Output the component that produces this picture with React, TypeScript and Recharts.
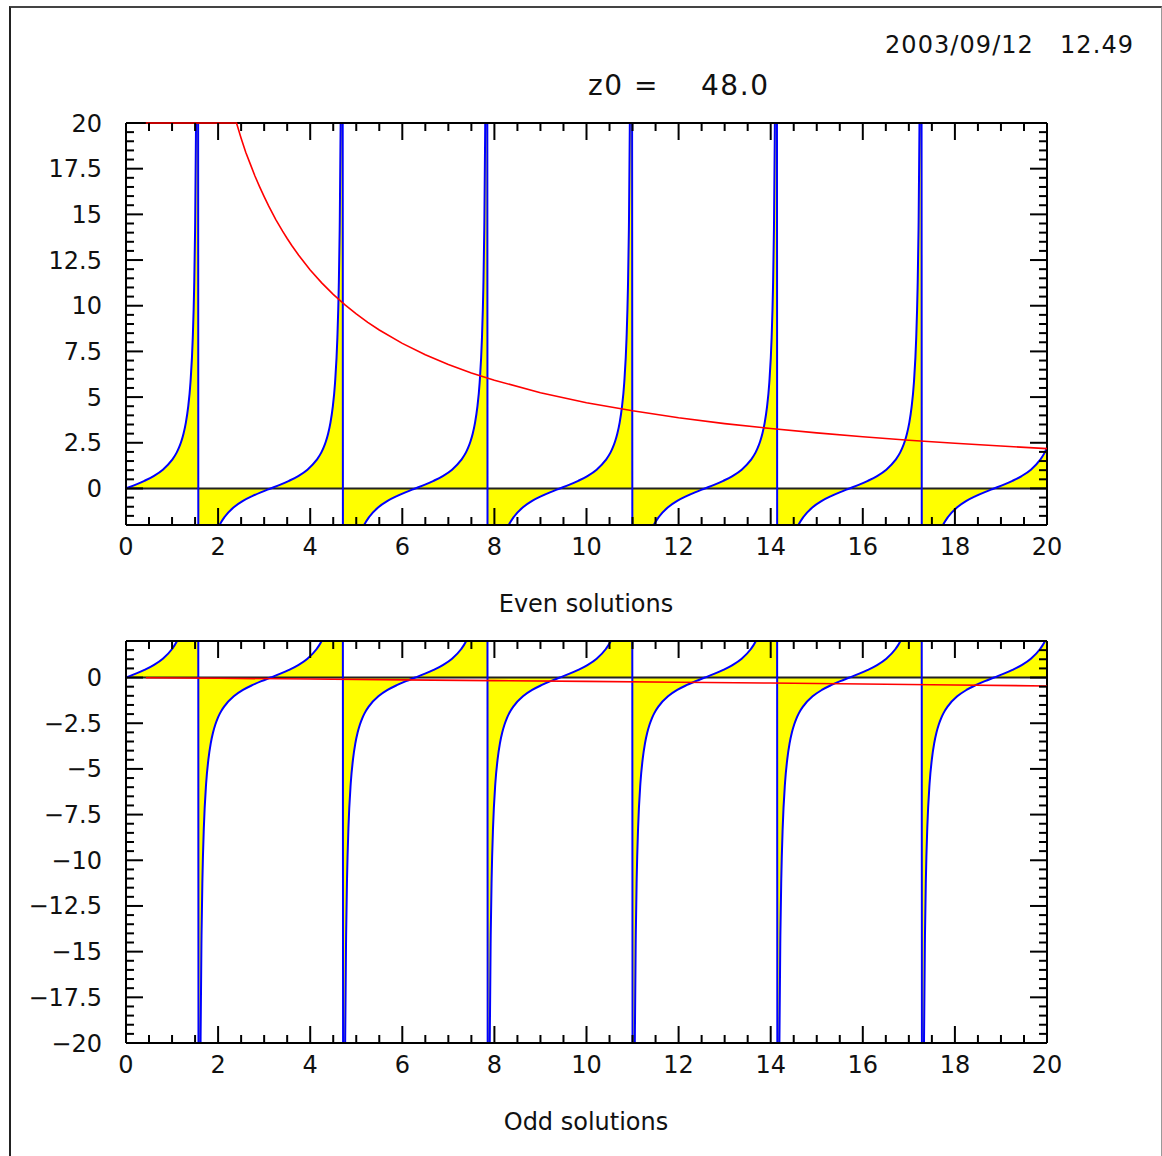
import React from 'react';
import { ComposedChart, Area, Line, XAxis, YAxis, ReferenceLine } from 'recharts';

// blue curve: every branch crosses zero at one of these z, and has the same shape around it
const zeroCrossings = [0, 3.14, 6.28, 9.42, 12.57, 15.71, 18.85];
const branchDz = [
    -1.555, -1.535, -1.52, -1.5, -1.48, -1.45, -1.4, -1.35, -1.3, -1.25, -1.2, -1.15, -1.1, -1.0, -0.8, -0.6, -0.4, -0.2,
    0, 0.2, 0.4, 0.6, 0.8, 1.0, 1.1, 1.15, 1.2, 1.25, 1.3, 1.35, 1.4, 1.45, 1.48, 1.5, 1.52, 1.535, 1.555
];
const branchTan = [
    -63.7, -27.9, -19.7, -14.1, -11.0, -8.24, -5.8, -4.46, -3.6, -3.01, -2.57, -2.23, -1.96, -1.56, -1.03, -0.68, -0.42, -0.2,
    0, 0.2, 0.42, 0.68, 1.03, 1.56, 1.96, 2.23, 2.57, 3.01, 3.6, 4.46, 5.8, 8.24, 11.0, 14.1, 19.7, 27.9, 63.7
];

// red curves
const redEvenX = [
    0.43, 1.0, 1.5, 2.0, 2.4, 2.5, 2.6, 2.7, 2.8, 2.9, 3.0, 3.1, 3.25, 3.4, 3.5, 3.6, 3.75, 4, 4.25, 4.5, 4.75, 5, 5.25,
    5.5, 6, 6.5, 7, 7.5, 8, 9, 10, 11, 12, 13, 14, 15, 16, 17, 18, 19, 20
];
const redEvenY = [
    20, 20, 20, 20, 20, 19.17, 18.4, 17.75, 17.1, 16.52, 15.97, 15.45, 14.73, 14.08, 13.68, 13.3, 12.76, 11.96, 11.25, 10.62,
    10.06, 9.55, 9.09, 8.67, 7.94, 7.32, 6.78, 6.32, 5.92, 5.24, 4.69, 4.25, 3.87, 3.55, 3.28, 3.04, 2.83, 2.64, 2.47, 2.32, 2.18
];
const redOddX = [0.43, 2, 4, 6, 8, 10, 12, 14, 16, 18, 20];
const redOddY = [-0.01, -0.04, -0.08, -0.13, -0.17, -0.21, -0.26, -0.3, -0.35, -0.41, -0.46];

// axes
const xMajor = [0, 2, 4, 6, 8, 10, 12, 14, 16, 18, 20];
const evenMajor = [0, 2.5, 5, 7.5, 10, 12.5, 15, 17.5, 20];
const oddMajor = [-20, -17.5, -15, -12.5, -10, -7.5, -5, -2.5, 0];

const FONT = '"DejaVu Sans", sans-serif';
const W = 1162;

const steps = (from: number, to: number, step: number) => {
    const out: number[] = [];
    for (let v = from; v <= to + 1e-9; v += step) out.push(Math.round(v * 100) / 100);
    return out;
};
const xTicks = steps(0, 20, 0.5);
const isIn = (v: number, arr: number[]) => arr.some(m => Math.abs(m - v) < 1e-6);
const fmt = (v: number) => (v < 0 ? '\u2212' + String(-v) : String(v));

const blueData = zeroCrossings.flatMap(c =>
    branchDz.map((dz, i) => ({ x: Math.round((c + dz) * 10000) / 10000, y: branchTan[i] }))
);
const redEven = redEvenX.map((x, i) => ({ x, r: redEvenY[i] }));
const redOdd = redOddX.map((x, i) => ({ x, r: redOddY[i] }));

const makeXTick = (side: 'top' | 'bottom', label: boolean) => (props: any) => {
    const { x, y, payload } = props;
    const major = isIn(payload.value, xMajor);
    const d = side === 'bottom' ? -1 : 1;
    return (
        <g>
            <line x1={x} x2={x} y1={y} y2={y + d * (major ? 17 : 8)} stroke="#000" strokeWidth={2} />
            {label && major ? (
                <text x={x} y={y + 30} textAnchor="middle" fontSize={24} fontFamily={FONT} fill="#111">
                    {fmt(payload.value)}
                </text>
            ) : null}
        </g>
    );
};

const makeYTick = (side: 'left' | 'right', majors: number[], label: boolean) => (props: any) => {
    const { x, y, payload } = props;
    const major = isIn(payload.value, majors);
    const d = side === 'left' ? 1 : -1;
    return (
        <g>
            <line x1={x} x2={x + d * (major ? 17 : 8)} y1={y} y2={y} stroke="#000" strokeWidth={2} />
            {label && major ? (
                <text x={x - 24} y={y + 8.5} textAnchor="end" fontSize={24} fontFamily={FONT} fill="#111">
                    {fmt(payload.value)}
                </text>
            ) : null}
        </g>
    );
};

interface PanelProps {
    top: number;
    yDomain: [number, number];
    yMajor: number[];
    red: { x: number; r: number }[];
}

const Panel: React.FC<PanelProps> = ({ top, yDomain, yMajor, red }) => {
    const yTicks = steps(yDomain[0], yDomain[1], 0.5);
    const axisLine = { stroke: '#000', strokeWidth: 2 };
    return (
        <div style={{ position: 'absolute', left: 0, top }}>
            <ComposedChart width={W} height={480} data={blueData} margin={{ top: 13, right: 105, bottom: 15, left: 66 }}>
                <XAxis
                    dataKey="x" type="number" domain={[0, 20]} ticks={xTicks} interval={0} allowDataOverflow
                    tickSize={0} tickMargin={0} tickLine={false} axisLine={axisLine} height={40}
                    tick={makeXTick('bottom', true)}
                />
                <XAxis
                    xAxisId="top" orientation="top" dataKey="x" type="number" domain={[0, 20]} ticks={xTicks} interval={0}
                    tickSize={0} tickMargin={0} tickLine={false} axisLine={axisLine} height={10}
                    tick={makeXTick('top', false)}
                />
                <YAxis
                    type="number" domain={yDomain} ticks={yTicks} interval={0} allowDataOverflow
                    tickSize={0} tickMargin={0} tickLine={false} axisLine={axisLine} width={60}
                    tick={makeYTick('left', yMajor, true)}
                />
                <YAxis
                    yAxisId="right" orientation="right" type="number" domain={yDomain} ticks={yTicks} interval={0}
                    tickSize={0} tickMargin={0} tickLine={false} axisLine={axisLine} width={10}
                    tick={makeYTick('right', yMajor, false)}
                />
                <Area
                    dataKey="y" type="monotone" baseValue={0} fill="#ffff00" fillOpacity={1} stroke="none"
                    isAnimationActive={false} dot={false} activeDot={false}
                />
                <ReferenceLine y={0} stroke="#222" strokeWidth={2} />
                <Line
                    dataKey="y" type="monotone" stroke="#0000ff" strokeWidth={2}
                    isAnimationActive={false} dot={false} activeDot={false}
                />
                <Line
                    data={red} dataKey="r" xAxisId="top" yAxisId="right" type="linear" stroke="#ff0000" strokeWidth={1.6}
                    isAnimationActive={false} dot={false} activeDot={false} zIndex={700}
                />
            </ComposedChart>
        </div>
    );
};

export default function App() {
    const txt = { fontFamily: FONT, fontSize: 24, fill: '#111' };
    return (
        <div style={{ position: 'absolute', left: 0, top: 0, width: W, height: 1156, background: '#fff', overflow: 'hidden' }}>
            <div
                style={{
                    position: 'absolute', left: 9, top: 6, width: 1150, height: 1200,
                    borderLeft: '2px solid #222', borderTop: '2px solid #444', borderRight: '1px solid #999'
                }}
            />
            <Panel top={100} yDomain={[-2, 20]} yMajor={evenMajor} red={redEven} />
            <Panel top={618} yDomain={[-20, 2]} yMajor={oddMajor} red={redOdd} />
            <svg width={W} height={1156} style={{ position: 'absolute', left: 0, top: 0, pointerEvents: 'none' }}>
                <text x={885} y={53} textLength={248} lengthAdjust="spacing" style={{ whiteSpace: 'pre' }} {...txt}>
                    2003/09/12   12.49
                </text>
                <text x={588} y={95} textLength={180} lengthAdjust="spacing" style={{ whiteSpace: 'pre' }} {...txt} fontSize={28}>
                    z0 =    48.0
                </text>
                <text x={586} y={612} textAnchor="middle" {...txt}>Even solutions</text>
                <text x={586} y={1130} textAnchor="middle" {...txt}>Odd solutions</text>
            </svg>
        </div>
    );
}
